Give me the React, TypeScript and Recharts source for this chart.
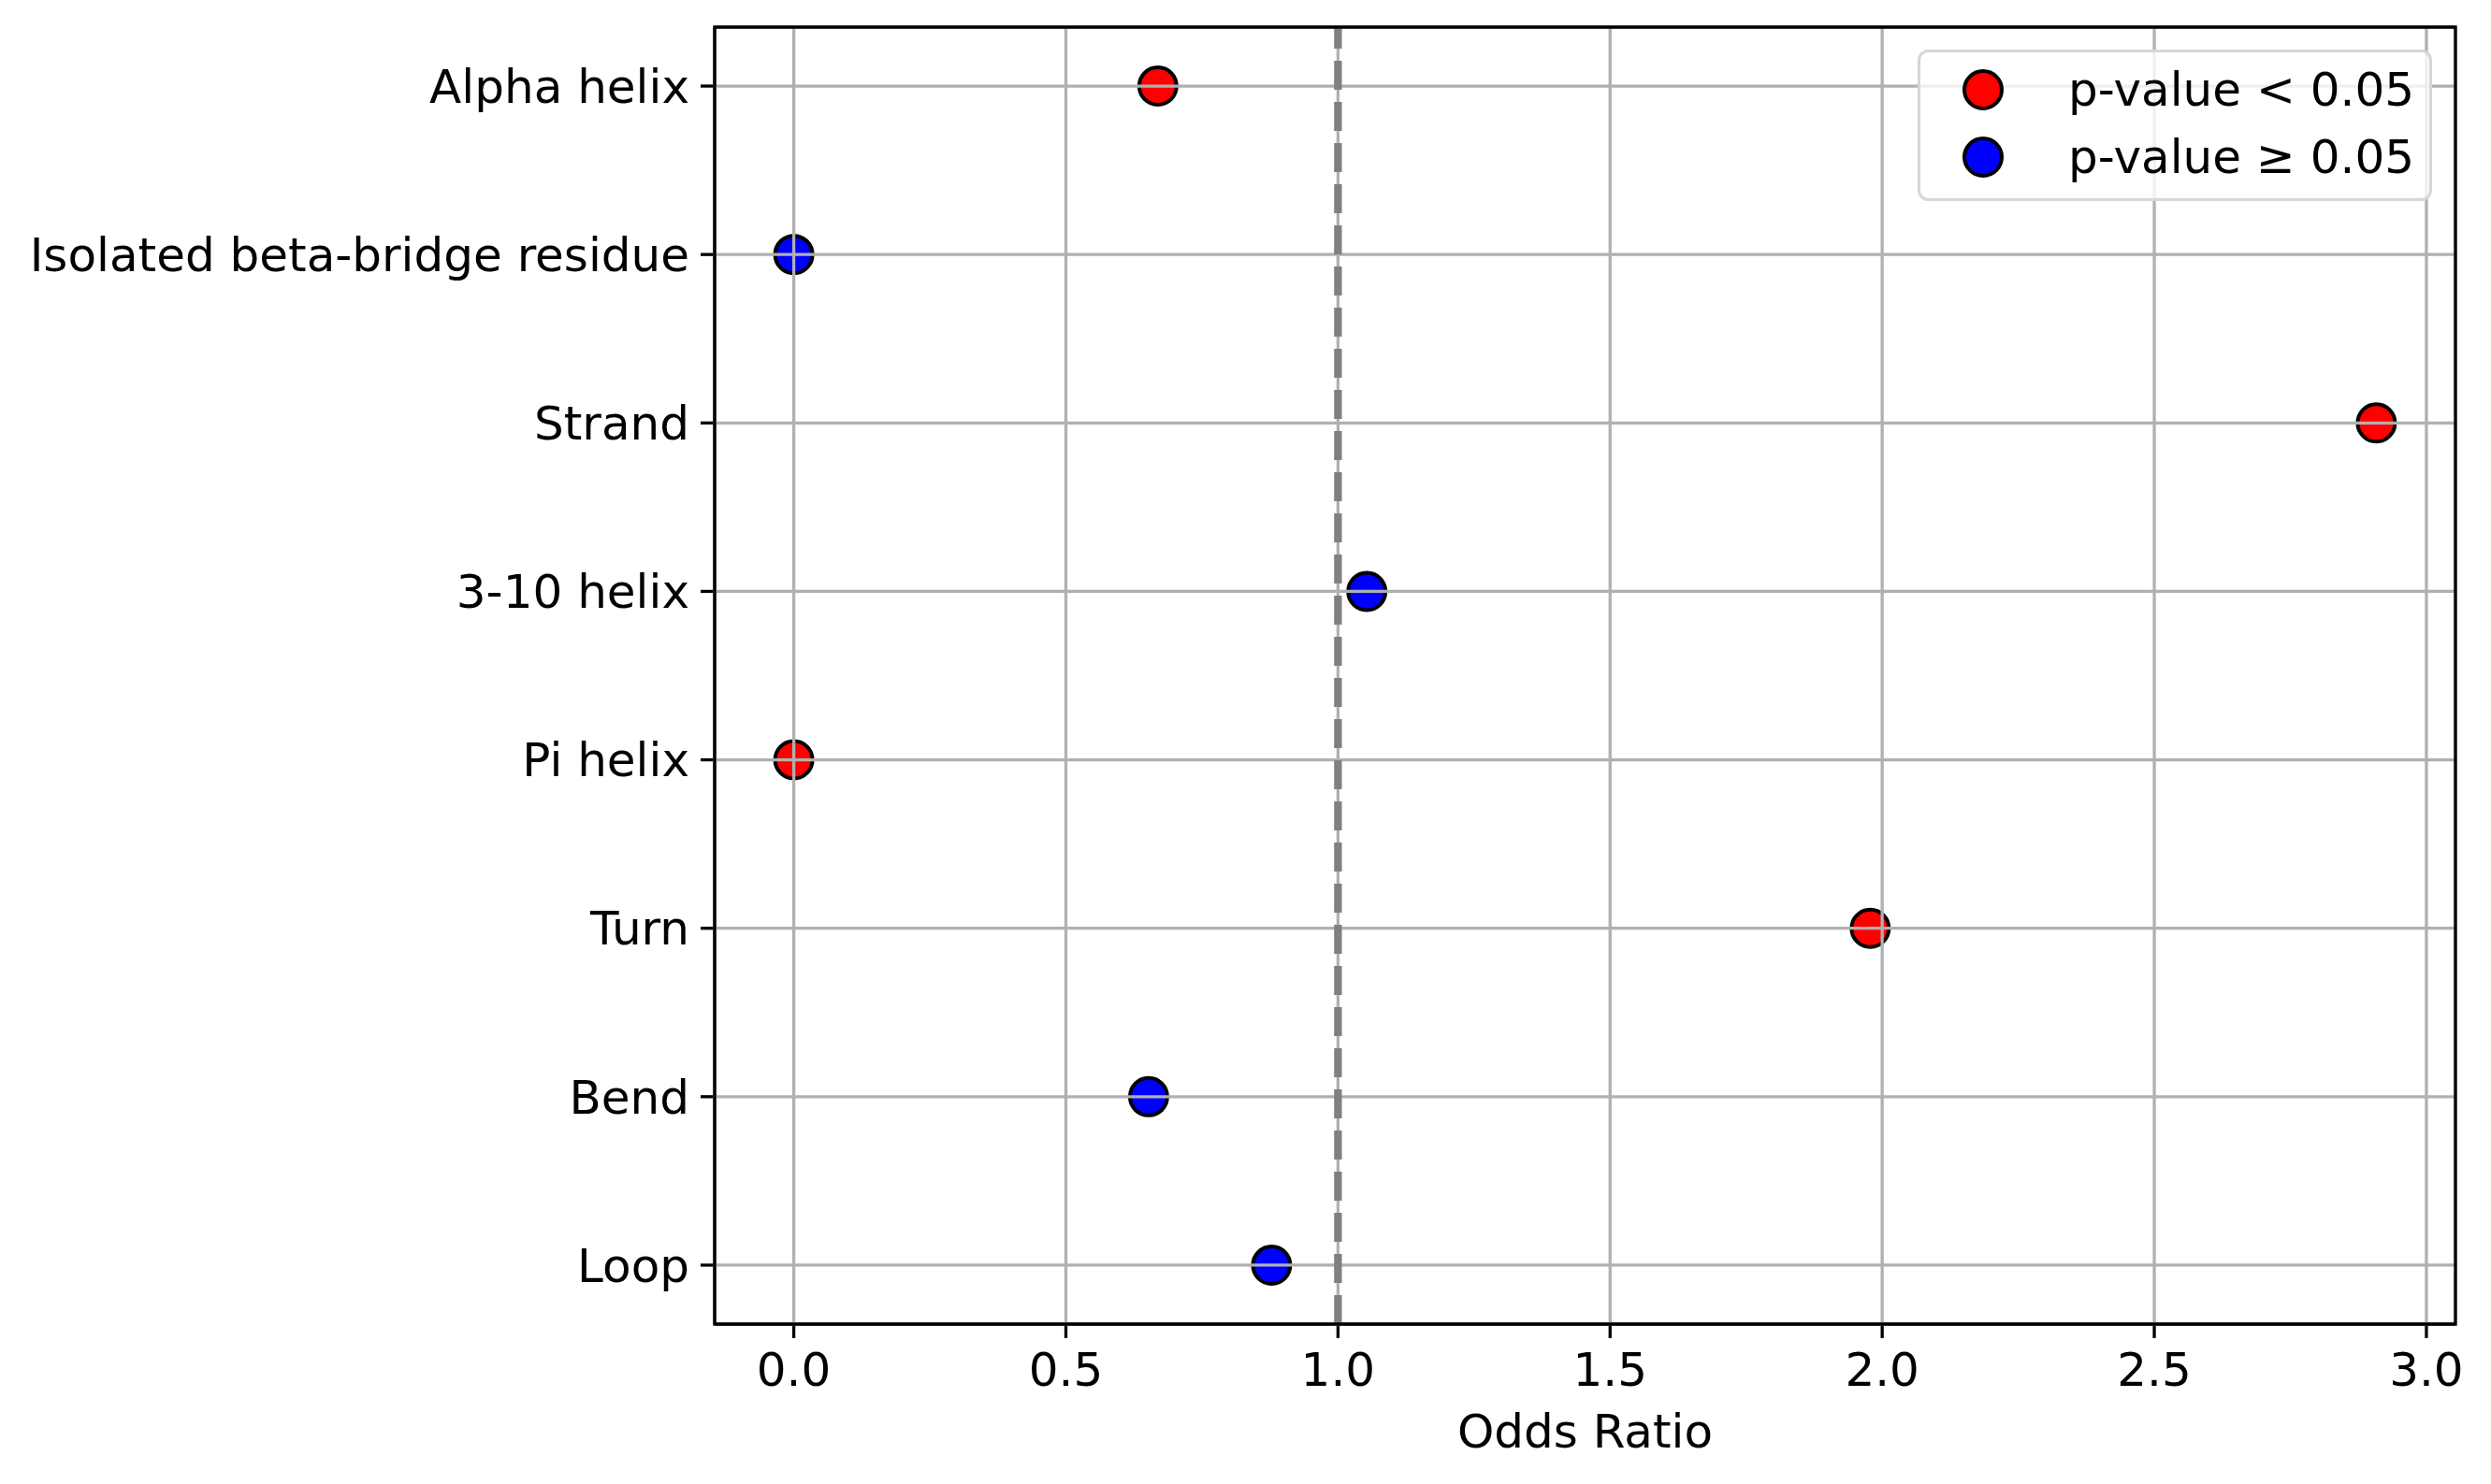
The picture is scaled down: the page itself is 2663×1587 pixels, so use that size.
import React from "react";
import {
  ScatterChart,
  Scatter,
  XAxis,
  YAxis,
  CartesianGrid,
  ReferenceLine,
  ReferenceArea,
  Legend,
} from "recharts";

document.body.style.margin = "0";

const CATEGORIES = [
  "Alpha helix",
  "Isolated beta-bridge residue",
  "Strand",
  "3-10 helix",
  "Pi helix",
  "Turn",
  "Bend",
  "Loop",
];
const ODDS_RATIOS = [0.669, 0.0, 2.908, 1.053, 0.0, 1.978, 0.652, 0.878];
const SIGNIFICANT = [true, false, true, false, true, true, false, false];
const X_TICKS = [0, 0.5, 1.0, 1.5, 2.0, 2.5, 3.0];
const Y_TICKS = CATEGORIES.map((_, i) => i);

const FONT = "DejaVu Sans";
const X_DOMAIN = [-0.1454, 3.0534];
const Y_DOMAIN = [-0.35, 7.35];

const points = CATEGORIES.map((name, i) => ({
  name,
  odds: ODDS_RATIOS[i],
  row: i,
  sig: SIGNIFICANT[i],
}));
const sigPoints = points.filter((p) => p.sig);
const nonSigPoints = points.filter((p) => !p.sig);

const dot = (color: string) => (props: any) => (
  <circle cx={props.cx} cy={props.cy} r={20} fill={color} stroke="#000" strokeWidth={4} />
);

const renderLegend = (props: any) => {
  const items = props.payload || [];
  return (
    <svg width={550} height={162}>
      <rect
        x={1.5}
        y={1.5}
        width={547}
        height={159}
        rx={10}
        fill="rgba(255,255,255,0.8)"
        stroke="#d6d6d6"
        strokeWidth={3}
      />
      {items.map((item: any, i: number) => (
        <g key={item.value}>
          <circle cx={70} cy={43 + i * 72} r={20} fill={item.color} stroke="#000" strokeWidth={4} />
          <text
            x={161}
            y={43 + i * 72}
            dominantBaseline="central"
            fontFamily={FONT}
            fontSize={50}
            fill="#000"
          >
            {item.value}
          </text>
        </g>
      ))}
    </svg>
  );
};

export default function App() {
  return (
    <div style={{ width: 2663, height: 1587, background: "#fff", fontFamily: FONT }}>
      <ScatterChart
        width={2663}
        height={1587}
        margin={{ top: 29, right: 38, bottom: 0, left: 0 }}
      >
        <XAxis
          type="number"
          dataKey="odds"
          domain={X_DOMAIN}
          ticks={X_TICKS}
          allowDataOverflow
          height={171}
          tickFormatter={(v: number) => v.toFixed(1)}
          tick={{ fontSize: 50, fill: "#000", fontFamily: FONT }}
          tickSize={15}
          tickMargin={15}
          tickLine={{ stroke: "#000", strokeWidth: 3.3 }}
          axisLine={{ stroke: "#000", strokeWidth: 3.3 }}
          label={{
            value: "Odds Ratio",
            position: "insideBottom",
            offset: 39,
            fontSize: 50,
            fill: "#000",
            fontFamily: FONT,
          }}
        />
        <YAxis
          type="number"
          dataKey="row"
          domain={Y_DOMAIN}
          ticks={Y_TICKS}
          reversed
          allowDataOverflow
          width={764}
          tickFormatter={(v: number) => CATEGORIES[v] ?? ""}
          tick={{ fontSize: 50, fill: "#000", fontFamily: FONT }}
          tickSize={15}
          tickMargin={12}
          tickLine={{ stroke: "#000", strokeWidth: 3.3 }}
          axisLine={{ stroke: "#000", strokeWidth: 3.3 }}
        />
        <Scatter
          name="p-value < 0.05"
          data={sigPoints}
          fill="#ff0000"
          shape={dot("#ff0000")}
          isAnimationActive={false}
        />
        <Scatter
          name="p-value ≥ 0.05"
          data={nonSigPoints}
          fill="#0000ff"
          shape={dot("#0000ff")}
          isAnimationActive={false}
        />
        <CartesianGrid stroke="#b0b0b0" strokeWidth={3.3} zIndex={700} />
        <ReferenceLine
          x={1}
          stroke="#808080"
          strokeWidth={8.3}
          strokeDasharray="31 13"
          zIndex={800}
        />
        <ReferenceArea
          x1={X_DOMAIN[0]}
          x2={X_DOMAIN[1]}
          y1={Y_DOMAIN[0]}
          y2={Y_DOMAIN[1]}
          fill="none"
          fillOpacity={0}
          stroke="#000"
          strokeWidth={3.3}
          zIndex={900}
        />
        <Legend
          layout="vertical"
          align="center"
          verticalAlign="middle"
          content={renderLegend}
          wrapperStyle={{ left: 2050, top: 53, width: 550, height: 162 }}
        />
      </ScatterChart>
    </div>
  );
}
